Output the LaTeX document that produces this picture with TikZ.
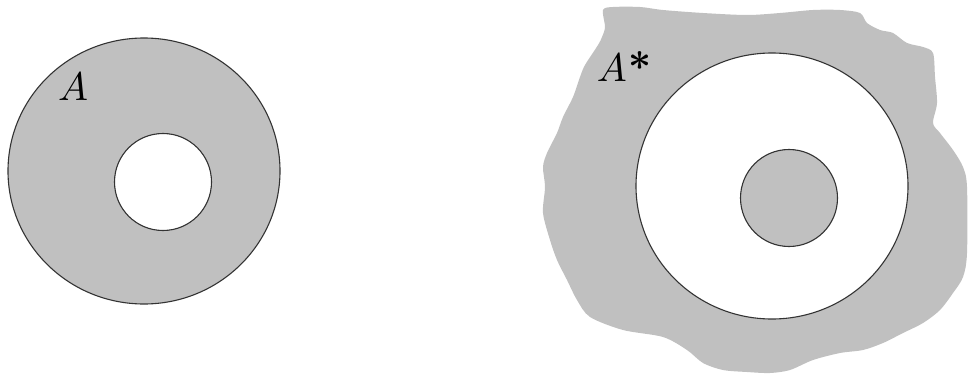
\documentclass[tikz,border=0pt]{standalone}
\usepackage{graphicx}
\begin{document}
\begin{tikzpicture}[x=1pt,y=-1pt,
  lbl/.style={inner sep=0pt}]
\definecolor{areagray}{RGB}{192,192,192}
\tikzset{outline/.style={draw=black!80, line width=1.1pt}}
\useasboundingbox (0,0) rectangle (968,377);
% left annulus A
\path[fill=areagray, outline, even odd rule]
  (144,171) ellipse [x radius=136, y radius=133]
  (163,182) circle [radius=48.5];
\node[lbl] (A) at (73,87) {\scalebox{4}{$A$}};
% right: A*
\fill[areagray] plot[smooth cycle, tension=0.5] coordinates {
 (603,10) (605,27) (602,37) (598,45) (585,65) (580,77) (573,97) (563,117)
 (557,133) (547,153) (543,167) (545,187) (543,213) (550,240) (557,260)
 (567,280) (577,300) (590,317) (623,330) (663,337) (687,350) (703,363)
 (723,370) (747,372) (770,373) (790,370) (813,360) (840,353) (863,350)
 (883,343) (903,333) (923,323) (940,310) (953,293) (963,277) (967,253)
 (967,187) (963,167) (953,150) (940,133) (933,123) (937,103) (935,77)
 (933,53) (923,47) (907,43) (893,33) (880,30) (867,23) (860,13) (840,10)
 (813,10) (780,13) (747,15) (703,13) (663,10) (640,7) (613,7)};
\draw[fill=white, outline] (772,186) ellipse [x radius=136, y radius=133];
\draw[fill=areagray, outline] (789,198) circle [radius=48.5];
\node[lbl] (Astar) at (624,67) {\scalebox{4}{$A$\kern0.3pt\textbf{*}}};
\end{tikzpicture}
\end{document}
